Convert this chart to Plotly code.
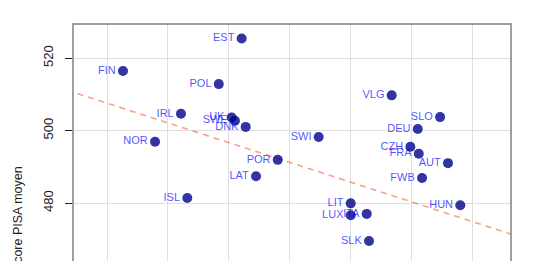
import plotly.graph_objects as go

countries = ["FIN", "NOR", "IRL", "ISL", "EST", "POL", "UK", "SWE", "DNK", "SWI",
             "POR", "LAT", "LIT", "LUX", "ITA", "SLK", "VLG", "SLO", "DEU", "CZH",
             "FRA", "AUT", "FWB", "HUN"]
x_vals = [6.31, 8.94, 11.07, 11.59, 16.05, 14.17, 15.23, 15.50, 16.38, 22.37,
          19.01, 17.23, 25.00, 25.00, 26.31, 26.50, 28.36, 32.33, 30.50, 29.89,
          30.58, 32.98, 30.85, 33.99]
pisa_scores = [516.4, 496.9, 504.6, 481.4, 525.4, 512.8, 503.6, 502.7, 501.0, 498.2,
               491.9, 487.4, 479.9, 476.6, 477.0, 469.5, 509.7, 503.7, 500.4, 495.5,
               493.6, 491.0, 486.9, 479.4]
trend_x = [0, 40]
trend_y = [513.0, 469.4]
y_ticks = [480, 500, 520]
x_grid = [5, 10, 15, 20, 25, 30, 35]

fig = go.Figure()
fig.add_trace(go.Scatter(
    x=trend_x, y=trend_y, mode="lines",
    line=dict(color="rgba(250,128,96,0.75)", width=1.6, dash="6px,5px"),
    hoverinfo="skip", showlegend=False))
fig.add_trace(go.Scatter(
    x=x_vals, y=pisa_scores, mode="markers+text", text=countries,
    textposition="middle left",
    textfont=dict(family="Liberation Sans, Arial, sans-serif", size=11,
                  color="rgba(0,0,255,0.7)"),
    marker=dict(size=10, color="rgba(0,0,139,0.8)", line=dict(width=0)),
    showlegend=False, cliponaxis=False))

fig.add_shape(type="rect", xref="paper", yref="paper", x0=0, x1=1, y0=-0.3, y1=1,
              line=dict(color="#808080", width=1.5), layer="above")
fig.add_annotation(text="Score PISA moyen", xref="paper", yref="paper",
                   x=-0.127, y=0.178, xanchor="center", yanchor="middle",
                   textangle=-90, showarrow=False,
                   font=dict(family="Liberation Sans, Arial, sans-serif", size=12.5,
                             color="#222222"))

fig.update_layout(
    width=533, height=261,
    margin=dict(l=73, r=22, t=24, b=0),
    plot_bgcolor="white", paper_bgcolor="white",
    font=dict(family="Liberation Sans, Arial, sans-serif", color="#222222"),
    xaxis=dict(range=[2.21, 38.15], tickvals=x_grid, showticklabels=False,
               showgrid=True, gridcolor="#dedede", gridwidth=1, zeroline=False,
               showline=False, ticks=""),
    yaxis=dict(range=[464.0, 529.38], tickvals=y_ticks, tickangle=-90,
               ticks="outside", ticklen=7, tickcolor="#222222", tickwidth=1,
               ticklabelstandoff=7,
               tickfont=dict(size=13, color="#222222"),
               showgrid=True, gridcolor="#dedede", gridwidth=1, zeroline=False,
               showline=False),
)

fig.write_html("out.html")
